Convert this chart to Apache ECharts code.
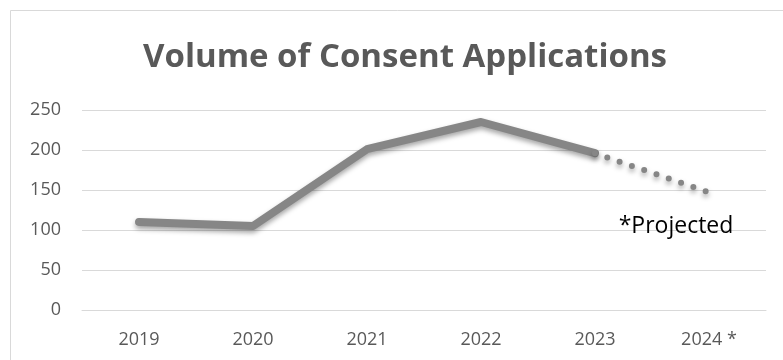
<!DOCTYPE html>
<html>
<head>
<meta charset="utf-8">
<script src="https://cdn.jsdelivr.net/npm/echarts@6/dist/echarts.min.js"></script>
<style>
  html, body { margin: 0; padding: 0; background: #fff; }
  #chart { width: 783px; height: 360px; }
</style>
</head>
<body>
<div id="chart"></div>
<script>
// Application counts per year; the last year is a projection
const years = ['2019', '2020', '2021', '2022', '2023', '2024 *'];
const actual = [110, 105, 201, 235, 196, null];
const projected = [null, null, null, null, 196, 147];
const projectedNote = '*Projected';

const chart = echarts.init(document.getElementById('chart'));
const lineColor = '#868686';
const shadow = { shadowColor: 'rgba(0,0,0,0.35)', shadowBlur: 5, shadowOffsetY: 3 };
const last = projected.length - 1;

chart.setOption({
  animation: false,
  backgroundColor: '#fff',
  title: {
    text: 'Volume of Consent Applications',
    left: 138,
    top: 36,
    textStyle: { fontFamily: 'Open Sans', fontWeight: 'bold', fontSize: 33, color: '#595959' }
  },
  graphic: [{
    type: 'rect',
    shape: { x: 10.5, y: 10.5, width: 800, height: 400 },
    style: { fill: 'none', stroke: '#d9d9d9', lineWidth: 1 },
    silent: true
  }],
  grid: { left: 82, right: 17, top: 110, bottom: 50 },
  xAxis: {
    type: 'category',
    data: years,
    boundaryGap: true,
    axisLine: { show: true, lineStyle: { color: '#d9d9d9', width: 1 } },
    axisTick: { show: false },
    axisLabel: { color: '#595959', fontFamily: 'Open Sans', fontSize: 18, margin: 21 }
  },
  yAxis: {
    type: 'value',
    min: 0, max: 250, interval: 50,
    axisLine: { show: false },
    axisTick: { show: false },
    axisLabel: { color: '#595959', fontFamily: 'Open Sans', fontSize: 18, margin: 21 },
    splitLine: { lineStyle: { color: '#d9d9d9', width: 1 } }
  },
  series: [
    {
      type: 'line',
      data: actual,
      symbol: 'none',
      connectNulls: false,
      lineStyle: Object.assign({ color: lineColor, width: 8, cap: 'round', join: 'round' }, shadow)
    },
    {
      type: 'line',
      data: projected,
      symbol: 'none',
      lineStyle: Object.assign({ color: lineColor, width: 6, type: [0, 13], cap: 'round', join: 'round' }, shadow),
      markPoint: {
        symbol: 'circle',
        symbolSize: 0,
        silent: true,
        data: [{
          coord: [years[last], projected[last]],
          label: {
            show: true,
            formatter: projectedNote,
            position: 'bottom',
            offset: [-33, 18],
            color: '#000',
            fontFamily: 'Open Sans',
            fontSize: 23
          }
        }]
      }
    }
  ]
});
</script>
</body>
</html>
